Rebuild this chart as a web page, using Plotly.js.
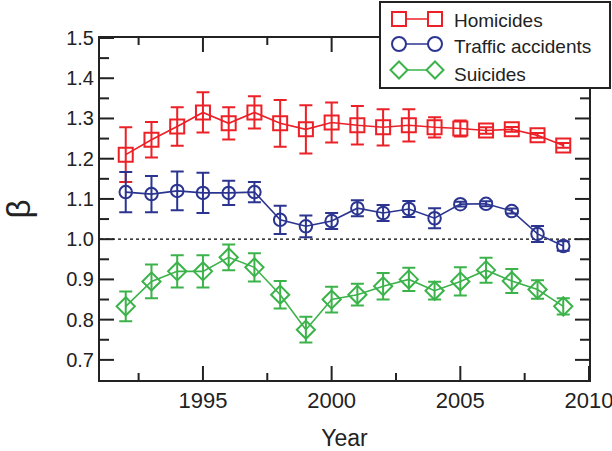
<!DOCTYPE html>
<html>
<head>
<meta charset="utf-8">
<script src="https://cdn.plot.ly/plotly-3.0.1.min.js"></script>
</head>
<body style="margin:0">
<div id="chart"></div>
<script>
// ---- data ----
const years = [1992,1993,1994,1995,1996,1997,1998,1999,2000,2001,2002,2003,2004,2005,2006,2007,2008,2009];
const homicides = [1.21,1.247,1.28,1.315,1.288,1.315,1.288,1.273,1.29,1.283,1.278,1.283,1.278,1.275,1.27,1.273,1.258,1.233];
const homicidesErr = [0.068,0.044,0.048,0.05,0.04,0.04,0.058,0.06,0.05,0.048,0.045,0.04,0.025,0.02,0.008,0.006,0.006,0.006];
const traffic = [1.117,1.112,1.12,1.115,1.115,1.117,1.048,1.032,1.045,1.077,1.065,1.075,1.052,1.087,1.088,1.07,1.013,0.983];
const trafficErr = [0.05,0.045,0.048,0.05,0.03,0.025,0.035,0.027,0.02,0.02,0.02,0.02,0.025,0.006,0.006,0.006,0.02,0.012];
const suicides = [0.833,0.895,0.92,0.92,0.955,0.93,0.862,0.775,0.85,0.862,0.883,0.9,0.872,0.895,0.923,0.896,0.875,0.833];
const suicidesErr = [0.037,0.042,0.04,0.04,0.032,0.035,0.034,0.032,0.032,0.027,0.033,0.029,0.022,0.035,0.031,0.03,0.023,0.02];
const seriesNames = ['Homicides','Traffic accidents','Suicides'];
const xRange = [1991, 2010];
const yRange = [0.65, 1.5];
const xMajorTicks = [1995,2000,2005,2010];
const xMinorTicks = [1992.5,1997.5,2002.5,2007.5];
const yMajorTicks = [0.7,0.8,0.9,1.0,1.1,1.2,1.3,1.4,1.5];
const yMinorTicks = [0.75,0.85,0.95,1.05,1.15,1.25,1.35,1.45];
const referenceLevel = 1.0;

// ---- styles ----
const colors = ['#ec2027','#2b3590','#3bb34a'];
const symbols = ['square-open','circle-open','diamond-open'];
const sizes = [14,12.5,14];
const font = 'Liberation Sans, Arial, sans-serif';
const ink = '#222';

// plot area in pixels
const L = 100, R = 589, T = 38, B = 380;
const W = R - L, H = B - T;
const px = x => (x - L) / W;
const py = y => (B - y) / H;
const dxPerPx = (xRange[1] - xRange[0]) / W;
const dyPerPx = (yRange[1] - yRange[0]) / H;

// inside tick marks on all four sides, built from the tick arrays
const tickX = [], tickY = [];
function addXTicks(vals, len) {
  vals.forEach(v => {
    tickX.push(v, v, null, v, v, null);
    tickY.push(yRange[0], yRange[0] + len * dyPerPx, null, yRange[1], yRange[1] - len * dyPerPx, null);
  });
}
function addYTicks(vals, len) {
  vals.forEach(v => {
    tickX.push(xRange[0], xRange[0] + len * dxPerPx, null, xRange[1], xRange[1] - len * dxPerPx, null);
    tickY.push(v, v, null, v, v, null);
  });
}
addXTicks(xMajorTicks, 14); addXTicks(xMinorTicks, 7);
addYTicks(yMajorTicks, 14); addYTicks(yMinorTicks, 9);

function trace(y, err, i) {
  return {
    x: years, y: y, type: 'scatter', mode: 'lines+markers', name: seriesNames[i],
    line: {color: colors[i], width: 1.6},
    marker: {symbol: symbols[i], size: sizes[i], color: colors[i], line: {color: colors[i], width: 2}},
    error_y: {type: 'data', array: err, visible: true, color: colors[i], thickness: 2, width: 6.5},
    showlegend: false, cliponaxis: false
  };
}
const data = [
  {x: tickX, y: tickY, type: 'scatter', mode: 'lines', line: {color: ink, width: 2}, connectgaps: false,
   hoverinfo: 'skip', showlegend: false, cliponaxis: false, name: 'ticks'},
  trace(homicides, homicidesErr, 0), trace(traffic, trafficErr, 1), trace(suicides, suicidesErr, 2)
];

const shapes = [
  {type:'line', xref:'paper', yref:'y', x0:0, x1:1, y0:referenceLevel, y1:referenceLevel, line:{color:'#000', width:1.2, dash:'dot'}, layer:'below'},
  {type:'rect', xref:'paper', yref:'paper', x0:px(380), x1:px(610), y0:py(88), y1:py(2), fillcolor:'#fff', line:{color:ink, width:2}, layer:'above'}
];
const annotations = [];
const rowsY = [19, 44, 70];
const textY = [20, 47, 74];
for (let i = 0; i < 3; i++) {
  const yy = rowsY[i], xa = 399, xb = 435, h = 7;
  shapes.push({type:'line', xref:'paper', yref:'paper', x0:px(xa), x1:px(xb), y0:py(yy), y1:py(yy), line:{color:colors[i], width:1.6}, layer:'above'});
  [xa, xb].forEach(cx => {
    if (i === 0) {
      shapes.push({type:'rect', xref:'paper', yref:'paper', x0:px(cx-h), x1:px(cx+h), y0:py(yy+h), y1:py(yy-h), fillcolor:'#fff', line:{color:colors[i], width:2}, layer:'above'});
    } else if (i === 1) {
      shapes.push({type:'circle', xref:'paper', yref:'paper', x0:px(cx-h), x1:px(cx+h), y0:py(yy+h), y1:py(yy-h), fillcolor:'#fff', line:{color:colors[i], width:2}, layer:'above'});
    } else {
      const d = 8.5;
      const p = `M${px(cx-d)},${py(yy)} L${px(cx)},${py(yy-d)} L${px(cx+d)},${py(yy)} L${px(cx)},${py(yy+d)} Z`;
      shapes.push({type:'path', xref:'paper', yref:'paper', path:p, fillcolor:'#fff', line:{color:colors[i], width:2}, layer:'above'});
    }
  });
  annotations.push({xref:'paper', yref:'paper', x:px(452), y:py(textY[i]), xanchor:'left', yanchor:'middle', text:seriesNames[i], showarrow:false, font:{family:font, size:19, color:ink}});
}

const layout = {
  width: 612, height: 451,
  margin: {l: L, r: 612 - R, t: T, b: 451 - B},
  xaxis: {
    range: xRange, ticklabeloverflow: 'allow',
    showline: true, linecolor: ink, linewidth: 2, mirror: true,
    ticks: '', showgrid: false, zeroline: false,
    tickfont: {family: font, size: 22, color: ink},
    title: {text: 'Year', font: {family: font, size: 23, color: ink}}
  },
  yaxis: {
    range: yRange, tickformat: '.1f', ticklabeloverflow: 'allow',
    showline: true, linecolor: ink, linewidth: 2, mirror: true,
    ticks: '', showgrid: false, zeroline: false,
    tickfont: {family: font, size: 20, color: ink},
    title: {text: 'β', font: {family: font, size: 33, color: ink}}
  },
  shapes: shapes,
  annotations: annotations
};

Plotly.newPlot('chart', data, layout, {displayModeBar: false, staticPlot: true});
</script>
</body>
</html>
